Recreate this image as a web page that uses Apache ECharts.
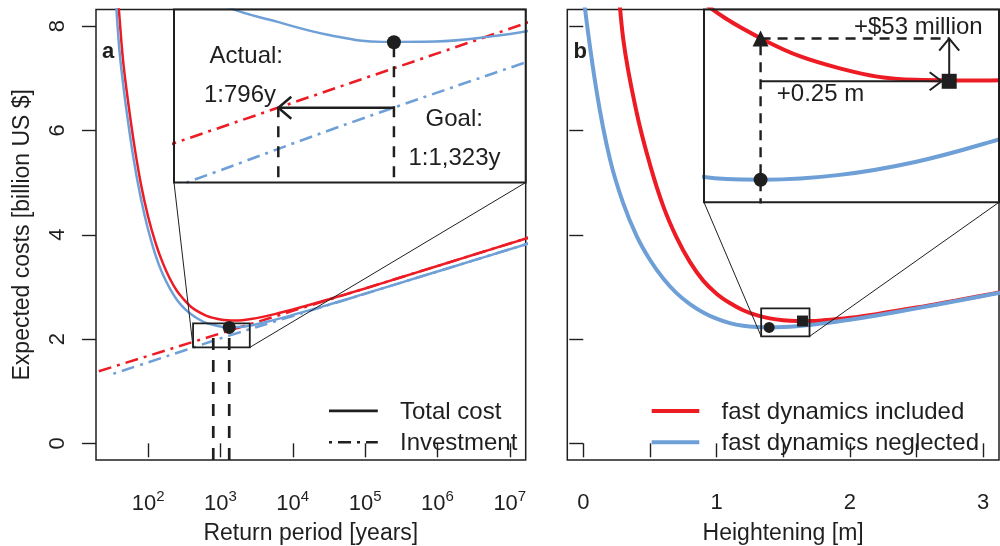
<!DOCTYPE html>
<html><head><meta charset="utf-8">
<script src="https://cdn.jsdelivr.net/npm/echarts@6/dist/echarts.min.js"></script>
<style>html,body{margin:0;padding:0;background:#fff}#c{width:1000px;height:546px}</style>
</head><body><div id="c"></div>
<script>
// ---------- DATA ----------
// Panel a: x = log10(return period [years])
const logReturnPeriod = [1.55,1.6,1.65,1.7,1.8,1.9,2.0,2.1,2.2,2.3,2.4,2.5,2.6,2.7,2.8,2.9,3.0,3.1,3.2,3.3,3.4,3.6,3.8,4.0,4.5,5.0,5.5,6.0,6.5,7.0,7.3];
const totalIncludedA  = [9.08,8.25,7.40,6.80,5.80,4.98,4.35,3.86,3.47,3.16,2.92,2.75,2.61,2.52,2.45,2.405,2.375,2.36,2.356,2.362,2.378,2.43,2.495,2.566,2.763,2.97,3.185,3.40,3.616,3.832,3.96];
const totalNeglectedA = [8.62,7.60,6.95,6.40,5.45,4.70,4.10,3.62,3.25,2.97,2.75,2.59,2.47,2.38,2.31,2.272,2.240,2.224,2.225,2.236,2.256,2.318,2.386,2.462,2.66,2.87,3.082,3.295,3.508,3.722,3.85];
const investIncludedLogT = [1.2,2.0,2.9,4.0,5.0,6.0,7.3];
const investIncludedA    = [1.332,1.677,2.065,2.539,2.970,3.401,3.961];
const investNeglectedLogT = [1.52,2.0,2.5,2.72,3.12,4.0,5.0,6.0,7.0,7.3];
const investNeglectedA    = [1.333,1.553,1.781,1.882,2.065,2.441,2.868,3.295,3.722,3.85];
const actualLogT = 2.901;   // 1:796y
const goalLogT = 3.1216;    // 1:1,323y
const investLevel = 2.065;
const optimumA = 2.223;
const xTicksA = [2,3,4,5,6,7];
const yTicks = [0,2,4,6,8];
const zoomBoxA = [2.622,3.406,1.84,2.30];
const insetA = {x:[2.702,3.373], y:[1.885,2.302]};

// Panel b: x = heightening [m]
const heightIncluded  = [0.2,0.25,0.3,0.4,0.5,0.6,0.7,0.8,0.9,1.0,1.1,1.2,1.3,1.4,1.5,1.6,1.7,1.8,2.0,2.2,2.5,2.8,3.0,3.2];
const totalIncludedB  = [10.9,9.3,7.75,6.35,5.35,4.55,3.95,3.48,3.12,2.87,2.69,2.552,2.457,2.396,2.361,2.347,2.346,2.359,2.408,2.478,2.603,2.741,2.835,2.931];
const heightNeglected = [0,0.1,0.2,0.3,0.4,0.5,0.6,0.7,0.8,0.9,1.0,1.1,1.2,1.3,1.4,1.5,1.6,1.7,1.8,2.0,2.2,2.5,2.8,3.0,3.2];
const totalNeglectedB = [8.6,6.75,5.45,4.6,3.98,3.52,3.16,2.88,2.67,2.51,2.39,2.305,2.254,2.229,2.223,2.229,2.245,2.27,2.30,2.371,2.453,2.588,2.730,2.826,2.922];
const hNeglected = 1.395, hIncluded = 1.645, arrowEndH = 1.635;
const minNeglectedB = 2.223, minIncludedB = 2.345, includedAtNeglectedH = 2.398;
const xTicksB = [0,0.5,1,1.5,2,2.5,3];
const xLabelsB = [0,1,2,3];
const zoomBoxB = [1.335,1.698,2.051,2.588];
const insetB = {x:[1.320,1.711], y:[2.195,2.434]};

// ---------- STYLE / LAYOUT ----------
const RED = '#ED1C24', BLUE = '#6E9FD6', INK = '#1f1f1f';
const FONT = '"Liberation Sans", Arial, Helvetica, sans-serif';
const L = {
  a:  {left:96,    top:9.5, width:429.7, height:450.5},
  ai: {left:174,   top:9.5, width:351.7, height:173},
  b:  {left:567.3, top:9.5, width:431.7, height:450.5},
  bi: {left:704,   top:9.5, width:295,   height:192.8}
};
const DOTDASH = [3,6,13,6];
const pairs = (xs, ys) => xs.map((x,i)=>[x, ys[i]]);

function lineS(data, color, width, type, idx, z, smooth){
  return {type:'line', xAxisIndex:idx, yAxisIndex:idx, data, showSymbol:false, symbol:'none',
    smooth: smooth ? 0.4 : false, clip:true, silent:true, z,
    lineStyle:{color, width, type: type || 'solid', cap:'butt'}};
}
function scatterS(pt, symbol, size, idx, z){
  return {type:'scatter', xAxisIndex:idx, yAxisIndex:idx, data:[pt], symbol, symbolSize:size, silent:true, z,
    itemStyle:{color:INK, opacity:1}};
}
function arrowS(seg, idx, z, lw, headLen, headW){
  return {type:'custom', xAxisIndex:idx, yAxisIndex:idx, data:[seg], silent:true, z,
    renderItem(params, api){
      const p1 = api.coord([api.value(0), api.value(1)]);
      const p2 = api.coord([api.value(2), api.value(3)]);
      const dx=p2[0]-p1[0], dy=p2[1]-p1[1], len=Math.hypot(dx,dy), ux=dx/len, uy=dy/len;
      const a1=[p2[0]-ux*headLen-uy*headW, p2[1]-uy*headLen+ux*headW];
      const a2=[p2[0]-ux*headLen+uy*headW, p2[1]-uy*headLen-ux*headW];
      return {type:'group', children:[
        {type:'line', shape:{x1:p1[0],y1:p1[1],x2:p2[0],y2:p2[1]}, style:{stroke:INK, lineWidth:lw}},
        {type:'polyline', shape:{points:[a1,p2,a2]}, style:{stroke:INK, lineWidth:lw, fill:null}}
      ]};
    }};
}
function boxS(box, idx, inset){
  return {type:'custom', xAxisIndex:idx, yAxisIndex:idx, data:[box], silent:true, z:6,
    renderItem(params, api){
      const tl = api.coord([api.value(0), api.value(3)]);
      const br = api.coord([api.value(1), api.value(2)]);
      const ib = inset.top + inset.height;
      return {type:'group', children:[
        {type:'rect', shape:{x:tl[0], y:tl[1], width:br[0]-tl[0], height:br[1]-tl[1]}, style:{fill:null, stroke:INK, lineWidth:1.8}},
        {type:'line', shape:{x1:tl[0], y1:br[1], x2:inset.left, y2:ib}, style:{stroke:INK, lineWidth:1}},
        {type:'line', shape:{x1:br[0], y1:br[1], x2:inset.left+inset.width, y2:ib}, style:{stroke:INK, lineWidth:1}}
      ]};
    }};
}

const yMin = -0.32, yMax = 8.32;
const tickStyle = {show:true, length:14, inside:false, lineStyle:{color:INK, width:1.4}};
const hidden = (gi, r) => ({gridIndex:gi, type:'value', min:r[0], max:r[1], show:false});

const option = {
  animation:false,
  grid:[
    Object.assign({show:true, borderColor:INK, borderWidth:1.5, backgroundColor:'#fff', containLabel:false, outerBoundsMode:'none'}, L.a),
    Object.assign({show:false, containLabel:false, outerBoundsMode:'none'}, L.ai),
    Object.assign({show:true, borderColor:INK, borderWidth:1.5, backgroundColor:'#fff', containLabel:false, outerBoundsMode:'none'}, L.b),
    Object.assign({show:false, containLabel:false, outerBoundsMode:'none'}, L.bi)
  ],
  xAxis:[
    {gridIndex:0, type:'value', min:1.28, max:7.22, axisLine:{show:false}, splitLine:{show:false},
     axisTick:Object.assign({customValues:xTicksA}, tickStyle),
     axisLabel:{customValues:xTicksA, margin:29, color:INK, fontFamily:FONT,
       formatter:v=>'{b|10}{s|'+v+'}',
       rich:{b:{fontSize:22, fontFamily:FONT, color:INK, padding:[4,0,0,0]}, s:{fontSize:15, fontFamily:FONT, color:INK, verticalAlign:'top'}}},
     name:'Return period [years]', nameLocation:'middle', nameGap:62,
     nameTextStyle:{fontSize:23, fontFamily:FONT, color:INK}},
    hidden(1, insetA.x),
    {gridIndex:2, type:'value', min:-0.12, max:3.12, axisLine:{show:false}, splitLine:{show:false},
     axisTick:Object.assign({customValues:xTicksB}, tickStyle),
     axisLabel:{customValues:xLabelsB, margin:32, fontSize:22, fontFamily:FONT, color:INK},
     name:'Heightening [m]', nameLocation:'middle', nameGap:62,
     nameTextStyle:{fontSize:23, fontFamily:FONT, color:INK}},
    hidden(3, insetB.x)
  ],
  yAxis:[
    {gridIndex:0, type:'value', min:yMin, max:yMax, axisLine:{show:false}, splitLine:{show:false},
     axisTick:Object.assign({customValues:yTicks}, tickStyle),
     axisLabel:{customValues:yTicks, rotate:90, margin:27, fontSize:22, fontFamily:FONT, color:INK},
     name:'Expected costs [billion US $]', nameLocation:'middle', nameGap:62,
     nameTextStyle:{fontSize:23, fontFamily:FONT, color:INK}},
    hidden(1, insetA.y),
    {gridIndex:2, type:'value', min:yMin, max:yMax, axisLine:{show:false}, splitLine:{show:false},
     axisTick:Object.assign({customValues:yTicks}, tickStyle),
     axisLabel:{show:false}},
    hidden(3, insetB.y)
  ],
  series:[
    // panel a main
    lineS(pairs(investIncludedLogT, investIncludedA), RED, 2.5, DOTDASH, 0, 2, false),
    lineS(pairs(investNeglectedLogT, investNeglectedA), BLUE, 2.5, DOTDASH, 0, 2, true),
    lineS(pairs(logReturnPeriod, totalIncludedA), RED, 2.5, 'solid', 0, 3, true),
    lineS(pairs(logReturnPeriod, totalNeglectedA), BLUE, 2.5, 'solid', 0, 3, true),
    lineS([[actualLogT, yMin],[actualLogT, investLevel]], INK, 2.7, [12,10], 0, 4, false),
    lineS([[goalLogT, yMin],[goalLogT, optimumA]], INK, 2.7, [12,10], 0, 4, false),
    scatterS([goalLogT, optimumA], 'circle', 13, 0, 5),
    boxS(zoomBoxA, 0, L.ai),
    // panel a inset
    lineS(pairs(investIncludedLogT, investIncludedA), RED, 2.6, DOTDASH, 1, 10, false),
    lineS(pairs(investNeglectedLogT, investNeglectedA), BLUE, 2.6, DOTDASH, 1, 10, true),
    lineS(pairs(logReturnPeriod, totalIncludedA), RED, 2.4, 'solid', 1, 10, true),
    lineS(pairs(logReturnPeriod, totalNeglectedA), BLUE, 2.4, 'solid', 1, 10, true),
    lineS([[actualLogT, yMin],[actualLogT, investLevel]], INK, 2.5, [11,9], 1, 11, false),
    lineS([[goalLogT, yMin],[goalLogT, optimumA]], INK, 2.5, [11,9], 1, 11, false),
    arrowS([goalLogT, investLevel, actualLogT, investLevel], 1, 12, 2.5, 13, 11),
    scatterS([goalLogT, optimumA], 'circle', 14, 1, 13),
    // panel b main
    lineS(pairs(heightIncluded, totalIncludedB), RED, 4, 'solid', 2, 3, true),
    lineS(pairs(heightNeglected, totalNeglectedB), BLUE, 4, 'solid', 2, 3, true),
    scatterS([hNeglected, minNeglectedB], 'circle', 11, 2, 5),
    scatterS([hIncluded, minIncludedB], 'rect', 11, 2, 5),
    boxS(zoomBoxB, 2, L.bi),
    // panel b inset
    lineS(pairs(heightIncluded, totalIncludedB), RED, 4, 'solid', 3, 10, true),
    lineS(pairs(heightNeglected, totalNeglectedB), BLUE, 4, 'solid', 3, 10, true),
    lineS([[hNeglected, yMin],[hNeglected, includedAtNeglectedH]], INK, 2.4, [10,7], 3, 11, false),
    lineS([[hNeglected, includedAtNeglectedH],[hIncluded, includedAtNeglectedH]], INK, 2.4, [10,7], 3, 11, false),
    arrowS([hNeglected, minIncludedB, arrowEndH, minIncludedB], 3, 12, 2, 12, 9),
    arrowS([hIncluded, minIncludedB, hIncluded, includedAtNeglectedH], 3, 12, 2, 12, 10),
    scatterS([hNeglected, includedAtNeglectedH], 'triangle', 16, 3, 13),
    scatterS([hIncluded, minIncludedB], 'rect', 15, 3, 13),
    scatterS([hNeglected, minNeglectedB], 'circle', 14, 3, 13)
  ],
  graphic:[
    {type:'rect', z:8, silent:true, shape:{x:L.ai.left, y:L.ai.top, width:L.ai.width, height:L.ai.height}, style:{fill:'#fff'}},
    {type:'rect', z:20, silent:true, shape:{x:L.ai.left, y:L.ai.top, width:L.ai.width, height:L.ai.height}, style:{fill:null, stroke:INK, lineWidth:2}},
    {type:'rect', z:8, silent:true, shape:{x:L.bi.left, y:L.bi.top, width:L.bi.width, height:L.bi.height}, style:{fill:'#fff'}},
    {type:'rect', z:20, silent:true, shape:{x:L.bi.left, y:L.bi.top, width:L.bi.width, height:L.bi.height}, style:{fill:null, stroke:INK, lineWidth:2}},
    {type:'text', z:21, silent:true, style:{text:'a', x:102, y:52.4, font:'bold 22px '+FONT, fill:INK, align:'left', verticalAlign:'middle'}},
    {type:'text', z:21, silent:true, style:{text:'b', x:573.5, y:52.4, font:'bold 22px '+FONT, fill:INK, align:'left', verticalAlign:'middle'}},
    {type:'text', z:21, silent:true, style:{text:'Actual:', x:246.3, y:56.5, font:'24px '+FONT, fill:INK, align:'center', verticalAlign:'middle'}},
    {type:'text', z:21, silent:true, style:{text:'1:796y', x:240, y:95.2, font:'24px '+FONT, fill:INK, align:'center', verticalAlign:'middle'}},
    {type:'text', z:21, silent:true, style:{text:'Goal:', x:454.2, y:119.5, font:'24px '+FONT, fill:INK, align:'center', verticalAlign:'middle'}},
    {type:'text', z:21, silent:true, style:{text:'1:1,323y', x:454.5, y:158.7, font:'24px '+FONT, fill:INK, align:'center', verticalAlign:'middle'}},
    {type:'text', z:21, silent:true, style:{text:'+$53 million', x:918.3, y:27, font:'24px '+FONT, fill:INK, align:'center', verticalAlign:'middle'}},
    {type:'text', z:21, silent:true, style:{text:'+0.25 m', x:820.5, y:94.5, font:'24px '+FONT, fill:INK, align:'center', verticalAlign:'middle'}},
    // legend a
    {type:'line', z:21, silent:true, shape:{x1:329, y1:410.9, x2:377.8, y2:410.9}, style:{stroke:INK, lineWidth:2.6}},
    {type:'line', z:21, silent:true, shape:{x1:329, y1:442.2, x2:377.8, y2:442.2}, style:{stroke:INK, lineWidth:2.6, lineDash:DOTDASH}},
    {type:'text', z:21, silent:true, style:{text:'Total cost', x:400, y:412, font:'24px '+FONT, fill:INK, align:'left', verticalAlign:'middle'}},
    {type:'text', z:21, silent:true, style:{text:'Investment', x:400, y:443.4, font:'24px '+FONT, fill:INK, align:'left', verticalAlign:'middle'}},
    // legend b
    {type:'line', z:21, silent:true, shape:{x1:651.7, y1:410.9, x2:699.3, y2:410.9}, style:{stroke:RED, lineWidth:4}},
    {type:'line', z:21, silent:true, shape:{x1:651.7, y1:442.2, x2:699.3, y2:442.2}, style:{stroke:BLUE, lineWidth:4}},
    {type:'text', z:21, silent:true, style:{text:'fast dynamics included', x:721.5, y:412, font:'24px '+FONT, fill:INK, align:'left', verticalAlign:'middle'}},
    {type:'text', z:21, silent:true, style:{text:'fast dynamics neglected', x:721.5, y:443.4, font:'24px '+FONT, fill:INK, align:'left', verticalAlign:'middle'}}
  ]
};
const chart = echarts.init(document.getElementById('c'), null, {renderer:'canvas'});
chart.setOption(option);
</script>
</body></html>
